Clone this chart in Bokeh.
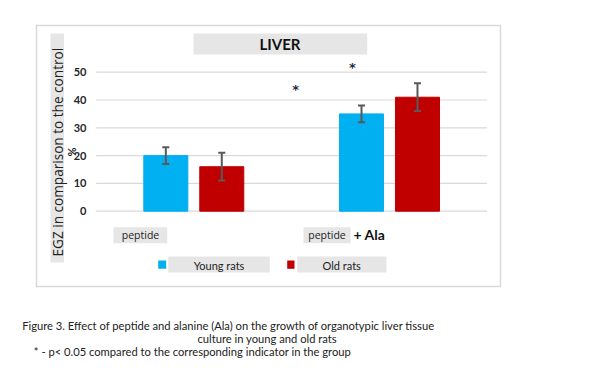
import math
from bokeh.plotting import figure
from bokeh.models import ColumnDataSource, Range1d
from bokeh.transform import dodge
from bokeh.core.properties import value
from bokeh.embed import file_html
from bokeh.resources import INLINE

# ---- data ----
groups = ["peptide", "peptide + Ala"]
young = [20, 35]
young_err = [3, 3]
old = [16, 41]
old_err = [5, 5]
y_ticks = [0, 10, 20, 30, 40, 50]
star_x = [0.52, 0.81]
star_y = [43.7, 51.7]

BLUE = "#00B0F0"
RED = "#C00000"
GRAY_BOX = "#E7E6E6"
GRID = "#D9D9D9"
ERR = "#595959"
FONT = "Lato"

W, H = 584, 364
PXU_X = 195.7   # pixels per group unit
PXU_Y = 2.78    # pixels per value unit
G0 = 193.3      # picture x of first group centre
Y0 = 210.7      # picture y of value 0


def fx(px):  # picture pixel -> data x
    return (px - G0) / PXU_X


def fy(py):  # picture pixel -> data y
    return (Y0 - py) / PXU_Y


p = figure(width=W, height=H, output_backend="svg", toolbar_location=None,
           x_range=Range1d(fx(0), fx(W)), y_range=Range1d(fy(H), fy(0)),
           x_axis_location=None, y_axis_location=None, min_border=0)
p.outline_line_color = None
p.xgrid.visible = False
p.ygrid.visible = False

# outer chart box
p.quad(left=[fx(36)], right=[fx(500)], bottom=[fy(286)], top=[fy(25)],
       fill_color="white", line_color=GRID, line_width=1.5)

# gridlines
p.segment(x0=[fx(95.7)] * len(y_ticks), x1=[fx(486.7)] * len(y_ticks),
          y0=y_ticks, y1=y_ticks, line_color=GRID, line_width=1.2)
p.text(x=[fx(86)] * len(y_ticks), y=y_ticks, text=[str(t) for t in y_ticks],
       text_font=value(FONT), text_font_size="11px", text_font_style="bold",
       text_color="#262626", text_align="right", text_baseline="middle")

# bars
xs = list(range(len(groups)))
src = ColumnDataSource(dict(
    x=xs, young=young, old=old,
    y_lo=[v - e for v, e in zip(young, young_err)],
    y_hi=[v + e for v, e in zip(young, young_err)],
    o_lo=[v - e for v, e in zip(old, old_err)],
    o_hi=[v + e for v, e in zip(old, old_err)],
))
BW = 0.225
OFF = 0.143
p.vbar(x=dodge("x", -OFF), top="young", bottom=0, width=BW, source=src,
       fill_color=BLUE, line_color=BLUE)
p.vbar(x=dodge("x", OFF), top="old", bottom=0, width=BW, source=src,
       fill_color=RED, line_color=RED)

CAP = 0.018
for off, lo, hi in [(-OFF, "y_lo", "y_hi"), (OFF, "o_lo", "o_hi")]:
    p.segment(x0=dodge("x", off), x1=dodge("x", off), y0=lo, y1=hi, source=src,
              line_color=ERR, line_width=2)
    p.segment(x0=dodge("x", off - CAP), x1=dodge("x", off + CAP), y0=lo, y1=lo,
              source=src, line_color=ERR, line_width=2)
    p.segment(x0=dodge("x", off - CAP), x1=dodge("x", off + CAP), y0=hi, y1=hi,
              source=src, line_color=ERR, line_width=2)

# significance stars
p.text(x=star_x, y=star_y, text=["*"] * len(star_x), text_font=value("DejaVu Sans"),
       text_font_size="13px", text_font_style="bold", text_color="#1F2A44",
       text_align="center", text_baseline="middle")

# title box
p.quad(left=[fx(193)], right=[fx(366.7)], bottom=[fy(54)], top=[fy(33)],
       fill_color=GRAY_BOX, line_color=None)
p.text(x=[fx(279.5)], y=[fy(43.5)], text=["LIVER"], text_font=value(FONT),
       text_font_size="15px", text_font_style="bold", text_color="#111111",
       text_align="center", text_baseline="middle")

# y-axis label
p.quad(left=[fx(50)], right=[fx(63.5)], bottom=[fy(262)], top=[fy(33)],
       fill_color=GRAY_BOX, line_color=None)
p.text(x=[fx(57)], y=[fy(256)], text=["EGZ in comparison to the control"],
       angle=math.pi / 2, text_font=value("Open Sans"), text_font_size="13.6px",
       text_color="#222222", text_align="left", text_baseline="middle")
p.text(x=[fx(71)], y=[fy(151.5)], text=["%"], angle=math.pi / 2,
       text_font=value(FONT), text_font_size="11px", text_font_style="bold",
       text_color="#262626", text_align="center", text_baseline="middle")

# category labels
p.quad(left=[fx(113), fx(303)], right=[fx(166.7), fx(350)],
       bottom=[fy(242.7)] * 2, top=[fy(226.7)] * 2,
       fill_color=GRAY_BOX, line_color=None)
p.text(x=[fx(140), fx(326.5)], y=[fy(234.5)] * 2, text=["peptide", "peptide"],
       text_font=value("Open Sans"), text_font_size="10.5px", text_color="#222222",
       text_align="center", text_baseline="middle")
p.text(x=[fx(353)], y=[fy(233.5)], text=["+ Ala"], text_font=value(FONT),
       text_font_size="14px", text_font_style="bold", text_color="#111111",
       text_align="left", text_baseline="middle")

# legend
p.quad(left=[fx(167.7), fx(296.7)], right=[fx(269.3), fx(386)],
       bottom=[fy(272)] * 2, top=[fy(256)] * 2,
       fill_color=GRAY_BOX, line_color=None)
p.quad(left=[fx(157.7), fx(286.7)], right=[fx(165.7), fx(294)],
       bottom=[fy(268.3)] * 2, top=[fy(260)] * 2,
       fill_color=[BLUE, RED], line_color=None)
p.text(x=[fx(218.5), fx(341.2)], y=[fy(264.5)] * 2, text=["Young rats", "Old rats"],
       text_font=value(FONT), text_font_size="11px", text_color="#222222",
       text_align="center", text_baseline="middle")

# caption
cap_font = dict(text_font=value(FONT), text_font_size="11.2px", text_color="#222222",
                text_baseline="middle")
p.text(x=[fx(21.7)], y=[fy(324.5)],
       text=["Figure 3. Effect of peptide and alanine (Ala) on the growth of organotypic liver tissue"],
       text_align="left", **cap_font)
p.text(x=[fx(266.7)], y=[fy(337.5)], text=["culture in young and old rats"],
       text_align="center", **cap_font)
p.text(x=[fx(33.3)], y=[fy(350.5)],
       text=["* - p< 0.05 compared to the corresponding indicator in the group"],
       text_align="left", **cap_font)

open("out.html", "w").write(file_html(p, INLINE))
